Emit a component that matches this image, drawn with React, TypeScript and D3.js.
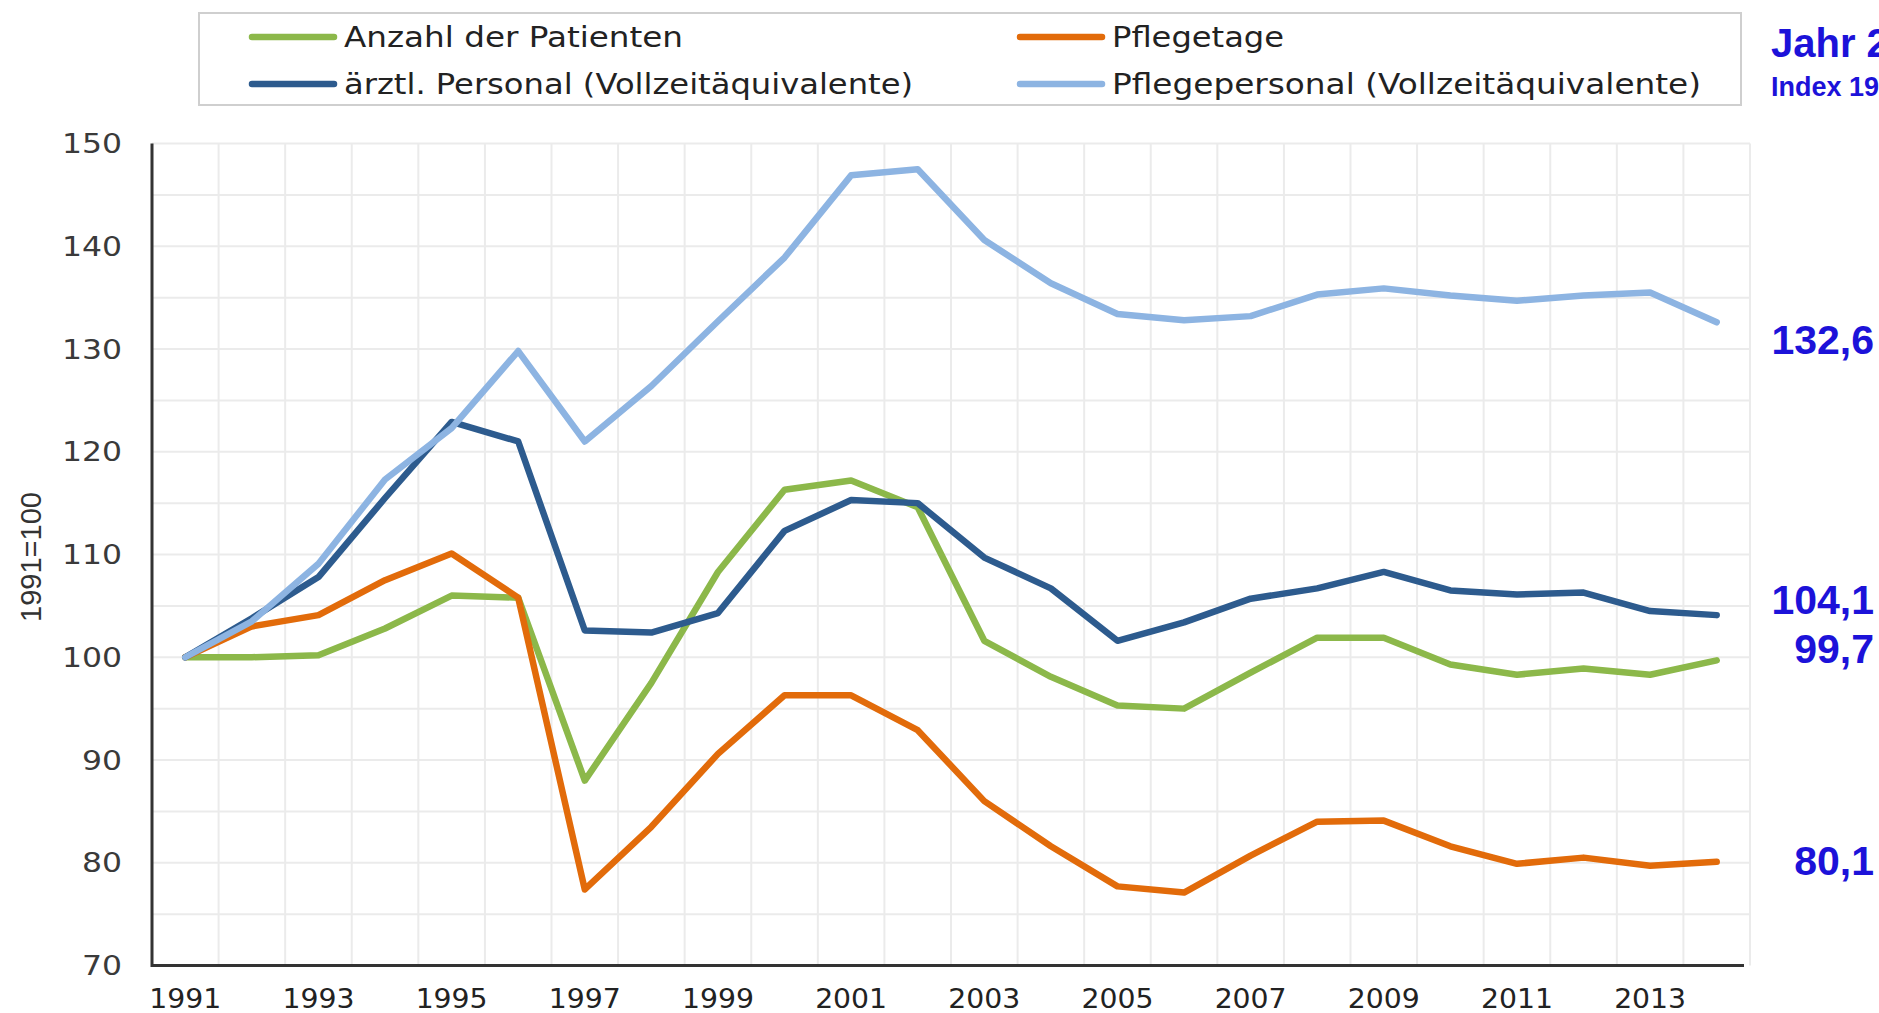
import React from "react";
import * as d3 from "d3";

const years: number[] = [1991,1992,1993,1994,1995,1996,1997,1998,1999,2000,2001,2002,2003,2004,2005,2006,2007,2008,2009,2010,2011,2012,2013,2014];

const patienten: number[] = [100,100.0,100.2,102.8,106.0,105.8,88.0,97.5,108.3,116.3,117.2,114.6,101.6,98.1,95.3,95.0,98.5,101.9,101.9,99.3,98.3,98.9,98.3,99.7];
const pflegetage: number[] = [100,103.0,104.1,107.5,110.1,105.8,77.4,83.5,90.6,96.3,96.3,92.9,86.0,81.6,77.7,77.1,80.7,84.0,84.1,81.6,79.9,80.5,79.7,80.1];
const aerztlPersonal: number[] = [100,103.8,107.8,115.5,122.9,121.0,102.6,102.4,104.3,112.3,115.3,115.0,109.7,106.7,101.6,103.4,105.7,106.7,108.3,106.5,106.1,106.3,104.5,104.1];
const pflegePersonal: number[] = [100,103.5,109.1,117.3,122.3,129.8,121.0,126.4,132.7,138.9,146.9,147.5,140.6,136.4,133.4,132.8,133.2,135.3,135.9,135.2,134.7,135.2,135.5,132.6];

const seriesNames: string[] = [
  "Anzahl der Patienten",
  "Pflegetage",
  "ärztl. Personal (Vollzeitäquivalente)",
  "Pflegepersonal (Vollzeitäquivalente)",
];
const seriesColors: string[] = ["#8cb84a", "#e26b0a", "#2d5b8e", "#8db4e2"];
const seriesValues: number[][] = [patienten, pflegetage, aerztlPersonal, pflegePersonal];

const yTicks: number[] = [70, 80, 90, 100, 110, 120, 130, 140, 150];
const xTickYears: number[] = [1991,1993,1995,1997,1999,2001,2003,2005,2007,2009,2011,2013];

const titleLine1 = "Jahr 2014";
const titleLine2 = "Index 1991=100";
const yAxisTitle = "1991=100";

// label order on the right (series index) and their vertical centre
const endLabelSeries: number[] = [3, 2, 0, 1];
const endLabelY: number[] = [339, 599, 648, 860];

const W = 1879;
const H = 1013;
const PX0 = 152;
const PX1 = 1750;
const PY0 = 143.5;
const PY1 = 965.5;

export default function App() {
  const x = d3.scalePoint<number>().domain(years).range([PX0, PX1]).padding(0.5);
  const step = x.step();
  const y = d3.scaleLinear().domain([70, 150]).range([PY1, PY0]);

  const line = d3
    .line<number>()
    .x((_, i) => x(years[i]) as number)
    .y((d) => y(d));

  const hGrid = d3.range(75, 151, 5);
  const vGrid = d3.range(1, years.length + 1).map((i) => PX0 + i * step);

  const fmt = (v: number) => d3.format(".1f")(v).replace(".", ",");

  // legend layout
  const legendCols = [252, 1020];
  const legendRows = [37, 84];
  const legendOrder = [0, 1, 2, 3];

  return (
    <svg
      width={W}
      height={H}
      style={{ position: "absolute", left: 0, top: 0, background: "#fff" }}
    >
      <rect x={0} y={0} width={W} height={H} fill="#fff" />
      {/* grid */}
      {hGrid.map((v) => (
        <line key={"h" + v} x1={PX0} x2={PX1} y1={y(v)} y2={y(v)} stroke="#ebebeb" strokeWidth={2} />
      ))}
      {vGrid.map((gx, i) => (
        <line key={"v" + i} x1={gx} x2={gx} y1={PY0} y2={PY1} stroke="#ebebeb" strokeWidth={2} />
      ))}
      {/* axes */}
      <line x1={PX0} x2={PX0} y1={PY0} y2={PY1 + 1.5} stroke="#333" strokeWidth={3} />
      <line x1={PX0} x2={PX1 - 6} y1={PY1} y2={PY1} stroke="#333" strokeWidth={3} />
      {/* y ticks */}
      {yTicks.map((v) => (
        <text
          key={"yt" + v}
          x={122}
          y={y(v) + 9.5}
          textAnchor="end"
          fontFamily="DejaVu Sans, Verdana, sans-serif"
          fontSize={26}
          fill="#3a3a3a"
          textLength={String(v).length * 20}
          lengthAdjust="spacingAndGlyphs"
        >
          {v}
        </text>
      ))}
      {/* x ticks */}
      {xTickYears.map((yr) => (
        <text
          key={"xt" + yr}
          x={x(yr) as number}
          y={1008}
          textAnchor="middle"
          fontFamily="DejaVu Sans, Verdana, sans-serif"
          fontSize={26}
          fill="#222"
          textLength={72}
          lengthAdjust="spacingAndGlyphs"
        >
          {yr}
        </text>
      ))}
      {/* y axis title */}
      <text
        transform={`translate(41,${557}) rotate(-90)`}
        textAnchor="middle"
        fontFamily="Liberation Sans, Arial, sans-serif"
        fontSize={30}
        fill="#333"
        textLength={130}
        lengthAdjust="spacingAndGlyphs"
      >
        {yAxisTitle}
      </text>
      {/* lines */}
      {seriesValues.map((vals, si) => (
        <path
          key={"s" + si}
          d={line(vals) || ""}
          fill="none"
          stroke={seriesColors[si]}
          strokeWidth={6.5}
          strokeLinejoin="round"
          strokeLinecap="round"
        />
      ))}
      {/* legend */}
      <rect x={199} y={13} width={1542} height={92} fill="#fff" stroke="#cfcfcf" strokeWidth={2} />
      {legendOrder.map((si, k) => {
        const cx = legendCols[k % 2];
        const cy = legendRows[Math.floor(k / 2)];
        const lens = [339, 172, 569, 589];
        return (
          <g key={"lg" + si}>
            <line x1={cx} x2={cx + 82} y1={cy} y2={cy} stroke={seriesColors[si]} strokeWidth={6.5} strokeLinecap="round" />
            <text
              x={cx + 92}
              y={cy + 10}
              fontFamily="DejaVu Sans, Verdana, sans-serif"
              fontSize={28}
              fill="#222"
              textLength={lens[si]}
              lengthAdjust="spacingAndGlyphs"
            >
              {seriesNames[si]}
            </text>
          </g>
        );
      })}
      {/* right-hand annotations */}
      <text x={1771} y={57} fontFamily="Liberation Sans, Arial, sans-serif" fontWeight="bold" fontSize={40} fill="#1c12d9">
        {titleLine1}
      </text>
      <text x={1771} y={96} fontFamily="Liberation Sans, Arial, sans-serif" fontWeight="bold" fontSize={27} fill="#1c12d9">
        {titleLine2}
      </text>
      {endLabelSeries.map((si, k) => {
        const vals = seriesValues[si];
        return (
          <text
            key={"el" + si}
            x={1874}
            y={endLabelY[k] + 15}
            textAnchor="end"
            fontFamily="Liberation Sans, Arial, sans-serif"
            fontWeight="bold"
            fontSize={41}
            fill="#1c12d9"
          >
            {fmt(vals[vals.length - 1])}
          </text>
        );
      })}
    </svg>
  );
}
